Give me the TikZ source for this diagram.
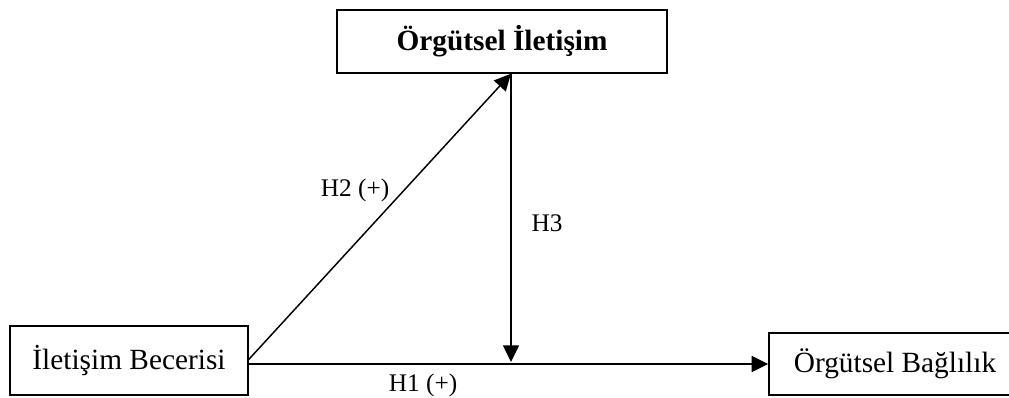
\documentclass[tikz,border=0pt]{standalone}
\usepackage{fontspec}
\setmainfont{Liberation Serif}
\usetikzlibrary{arrows.meta,calc}
\begin{document}
\begin{tikzpicture}[x=0.75pt,y=-0.75pt,
  box/.style={draw,line width=1.1pt,rectangle,inner sep=0pt,font=\fontsize{22}{26}\selectfont},
  conn/.style={line width=1.1pt},
  arr/.style={conn,-{Triangle[length=12.5pt,width=12pt]}},
  lab/.style={font=\fontsize{19}{23}\selectfont,inner sep=0pt}]
\useasboundingbox (0,0) rectangle (1009,398);
\clip (0,0) rectangle (1009,398);
\node[box,minimum width=330*0.75pt,minimum height=63*0.75pt,font=\fontsize{22}{26}\selectfont\bfseries] (ot) at (502,41.5) {Örgütsel İletişim};
\node[box,minimum width=238*0.75pt,minimum height=69*0.75pt] (ib) at (129,360.5) {İletişim Becerisi};
\node[box,minimum width=252*0.75pt,minimum height=62*0.75pt] (ob) at (895,364) {Örgütsel Bağlılık};
\coordinate (m) at ($(ot.south)+(9,0)$);
\draw[arr] (ib.east |- ob.west) -- (ob.west);
\draw[arr] ($(ib.east)+(0,-1)$) -- (m);
\draw[arr] (m) -- ($(m |- ob.west)+(0,-2)$);
\node[lab] (h2) at (355,190) {H2 (+)};
\node[lab] (h3) at (547,223) {H3};
\node[lab] (h1) at (423,385) {H1 (+)};
\end{tikzpicture}
\end{document}
